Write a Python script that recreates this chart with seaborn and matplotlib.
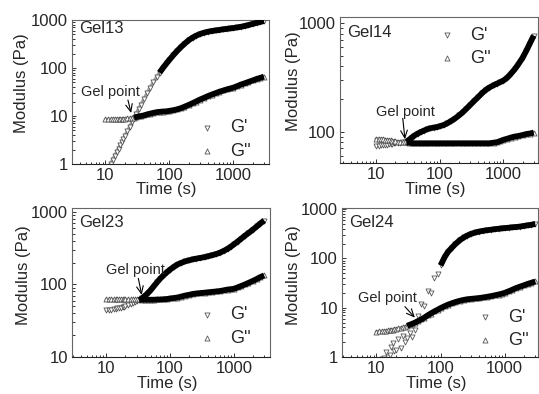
import matplotlib
matplotlib.use('Agg')
import matplotlib.pyplot as plt
import matplotlib.ticker as mticker
import pandas as pd
import seaborn as sns

# sampling times (s), shared by all four gels
TIME = [10, 11, 12, 13, 14, 15, 16, 17, 18, 19, 20,
        22, 24, 26, 28, 30,
        33, 36, 40, 45, 50, 56, 63, 70, 80, 90,
        100, 115, 130, 150, 170, 200, 230, 260, 300, 350,
        400, 460, 530, 600, 700, 800, 900, 1000,
        1150, 1300, 1500, 1700, 2000, 2300, 2600, 3000]

# storage modulus G' and loss modulus G'' (Pa)
GEL13_G1 = [0.65, 0.82, 1.0, 1.22, 1.48, 1.78, 2.1, 2.45, 2.85, 3.3, 3.8,
            4.8, 6.0, 7.4, 9.0, 10.8,
            13.9, 17.3, 22.5, 30, 39, 50, 64, 80, 102, 125,
            148, 185, 222, 270, 315, 380, 430, 470, 510, 545,
            570, 590, 605, 620, 640, 655, 668, 680,
            700, 720, 750, 780, 830, 870, 910, 950]
GEL13_G2 = [8.5, 8.5, 8.5, 8.6, 8.6, 8.6, 8.7, 8.7, 8.7, 8.8, 8.8,
            8.9, 9.0, 9.0, 9.2, 9.5,
            9.8, 10.0, 10.3, 10.8, 11.2, 11.6, 12.0, 12.2, 12.4, 12.5,
            12.8, 13.2, 13.7, 14.5, 15.5, 17.0, 18.5, 20.0, 22.0, 24.0,
            26, 28, 30, 32, 34, 36, 37.5, 39,
            42, 45, 48, 51, 55, 59, 62, 66]

GEL14_G1 = [74, 74, 74.5, 75, 75.5, 76, 76.5, 77, 77.5, 78, 78,
            78.5, 79, 79.5, 80, 81,
            84, 88, 92, 96, 99, 102, 105, 107, 109, 110,
            112, 115, 119, 125, 131, 141, 151, 162, 176, 193,
            208, 226, 243, 255, 268, 278, 287, 296,
            315, 340, 375, 415, 480, 560, 650, 770]
GEL14_G2 = [86, 86, 85.5, 85, 84.5, 84, 83.5, 83, 82.5, 82, 81.5,
            81, 80.5, 80, 80, 79.5,
            79, 78.5, 78, 78, 78, 78, 78, 78, 78, 78,
            78, 78, 78, 78, 78, 78, 78, 78, 78, 78,
            78, 78, 78, 78, 79, 80, 82, 84,
            86, 88, 90, 91, 93, 95, 96, 98]

GEL23_G1 = [44, 44, 45, 45.5, 46, 47, 47.5, 48, 49, 49.5, 50,
            51.5, 53, 55, 57, 59,
            61, 64, 69, 76, 84, 95, 108, 120, 135, 148,
            160, 175, 188, 198, 207, 215, 222, 227, 232, 238,
            245, 253, 262, 273, 290, 310, 332, 355,
            390, 425, 470, 510, 570, 630, 690, 760]
GEL23_G2 = [62, 62, 62, 62, 62, 62, 62, 62, 62, 62, 62,
            62, 62, 62, 62, 62,
            62, 61.5, 61.5, 61.5, 61.5, 61.5, 62, 62, 62.5, 63,
            64, 65, 66, 68, 70, 72, 74, 75, 76, 77,
            78, 79, 80, 81, 83, 85, 86, 87,
            91, 95, 100, 105, 112, 119, 126, 133]

GEL24_G1 = [0.7, 0.8, 0.9, 0.95, 1.25, 1.0, 1.1, 1.6, 1.9, 1.3, 1.4,
            2.3, 1.5, 2.7, 2.0, 2.4,
            3.1, 2.5, 3.6, 6.8, 12, 11, 22, 20, 40, 48,
            72, 105, 135, 165, 195, 235, 265, 290, 315, 335,
            350, 362, 372, 380, 390, 398, 405, 410,
            418, 425, 432, 440, 455, 468, 480, 500]
GEL24_G2 = [3.25, 3.3, 3.3, 3.35, 3.4, 3.45, 3.5, 3.55, 3.6, 3.65, 3.7,
            3.8, 3.9, 4.0, 4.15, 4.3,
            4.5, 4.7, 5.0, 5.4, 5.8, 6.3, 7.0, 7.6, 8.4, 9.1,
            9.8, 10.7, 11.5, 12.3, 13.0, 13.8, 14.4, 14.8, 15.1, 15.4,
            15.7, 16.1, 16.6, 17.1, 17.8, 18.5, 19.2, 20,
            21.5, 23, 25, 26.5, 28.5, 30.5, 32, 34]

GELS = ['Gel13', 'Gel14', 'Gel23', 'Gel24']
SERIES = {'Gel13': (GEL13_G1, GEL13_G2), 'Gel14': (GEL14_G1, GEL14_G2),
          'Gel23': (GEL23_G1, GEL23_G2), 'Gel24': (GEL24_G1, GEL24_G2)}

# layout / styling per panel (pixel rects: left, top, width, height)
LAYOUT = {
    'Gel13': dict(rect=[72, 20, 197, 144], xlim=(3, 3600), ylim=(1, 1000),
                  dense=(70, 28), grey=(True, True), name_y=0.94,
                  leg=(0.640, 0.170), ylab=(-0.218, 0.559),
                  txt=(0.193, 0.50), arr=((0.284, 0.444), (0.300, 0.354))),
    'Gel14': dict(rect=[340, 16.7, 198, 146.6], xlim=(2.7, 3500), ylim=(51, 1150),
                  dense=(30, 30), grey=(True, True), name_y=0.889,
                  leg=(0.493, 0.795), ylab=(-0.197, 0.563),
                  txt=(0.328, 0.35), arr=((0.317, 0.307), (0.328, 0.164))),
    'Gel23': dict(rect=[72, 208, 198, 149], xlim=(2.9, 3700), ylim=(10, 1130),
                  dense=(33, 33), grey=(True, True), name_y=0.903,
                  leg=(0.635, 0.205), ylab=(-0.207, 0.55),
                  txt=(0.318, 0.584), arr=((0.335, 0.528), (0.352, 0.416))),
    'Gel24': dict(rect=[342, 208, 196, 149], xlim=(2.9, 3300), ylim=(1, 1050),
                  dense=(100, 30), grey=(False, True), name_y=0.90,
                  leg=(0.684, 0.188), ylab=(-0.209, 0.55),
                  txt=(0.232, 0.399), arr=((0.321, 0.338), (0.372, 0.264))),
}

W, H = 539, 394

sns.set_theme(style='white')
plt.rcParams['font.family'] = ['Liberation Sans', 'DejaVu Sans']

fig = plt.figure(figsize=(W / 100, H / 100), dpi=100)


def draw_panel(gel):
    cfg = LAYOUT[gel]
    l, t, w, h = cfg['rect']
    ax = fig.add_axes([l / W, 1 - (t + h) / H, w / W, h / H])
    ax.set_xscale('log')
    ax.set_yscale('log')
    g1, g2 = SERIES[gel]
    n = len(TIME)
    df = pd.DataFrame({'time': TIME * 2, 'modulus': g1 + g2,
                       'series': ["G'"] * n + ["G''"] * n})
    for i, (lab, mk) in enumerate([("G'", 'v'), ("G''", '^')]):
        sub = df[df['series'] == lab]
        if cfg['grey'][i]:
            sns.lineplot(data=sub, x='time', y='modulus', color='#a0a0a0', linewidth=2.6,
                         estimator=None, ax=ax, legend=False)
            ax.lines[-1].set_zorder(1)
        sns.scatterplot(data=sub, x='time', y='modulus', marker=mk, s=13,
                        color='white', edgecolor='#555555', linewidth=0.6,
                        ax=ax, label=lab)
        ax.collections[-1].set_zorder(2)
        dense = sub[sub['time'] >= cfg['dense'][i]]
        sns.lineplot(data=dense, x='time', y='modulus', color='black', linewidth=4.2,
                     estimator=None, ax=ax, legend=False)
        ax.lines[-1].set_zorder(3)
        ax.lines[-1].set_solid_capstyle('butt')
        ax.lines[-1].set_solid_joinstyle('round')

    ax.set_xlim(*cfg['xlim'])
    ax.set_ylim(*cfg['ylim'])
    fmt = mticker.FuncFormatter(lambda v, p: f'{v:g}')
    for axis in (ax.xaxis, ax.yaxis):
        axis.set_major_locator(mticker.LogLocator(base=10, numticks=10))
        axis.set_minor_locator(mticker.LogLocator(base=10, subs=range(2, 10), numticks=10))
        axis.set_major_formatter(fmt)
        axis.set_minor_formatter(mticker.NullFormatter())
    ax.tick_params(which='both', direction='in', bottom=True, left=True,
                   top=False, right=False, color='#333333', width=0.7)
    ax.tick_params(which='major', length=3, pad=3, labelsize=12)
    ax.tick_params(which='minor', length=1.8)
    for sp in ax.spines.values():
        sp.set_color('#666666')
        sp.set_linewidth(0.8)
    ax.spines['bottom'].set_color('#222222')

    ax.set_xlabel('Time (s)', fontsize=12)
    ax.set_ylabel('Modulus (Pa)', fontsize=12)
    ax.xaxis.set_label_coords(0.48, -0.125)
    ax.yaxis.set_label_coords(*cfg['ylab'])

    ax.text(0.035, cfg['name_y'], gel, transform=ax.transAxes, fontsize=12,
            ha='left', va='center')
    ax.text(*cfg['txt'], 'Gel point', transform=ax.transAxes, fontsize=10.5,
            ha='center', va='center')
    ax.annotate('', xy=cfg['arr'][1], xytext=cfg['arr'][0],
                xycoords='axes fraction', textcoords='axes fraction',
                arrowprops=dict(arrowstyle='->,head_length=0.45,head_width=0.2',
                                color='black', lw=0.8, shrinkA=0, shrinkB=0))

    ax.legend(loc='center left', bbox_to_anchor=cfg['leg'], frameon=False,
              fontsize=13, handlelength=1.0, handletextpad=0.8,
              labelspacing=0.35, borderpad=0, borderaxespad=0)


for gel in GELS:
    draw_panel(gel)

fig.savefig('out.png', dpi=100)
